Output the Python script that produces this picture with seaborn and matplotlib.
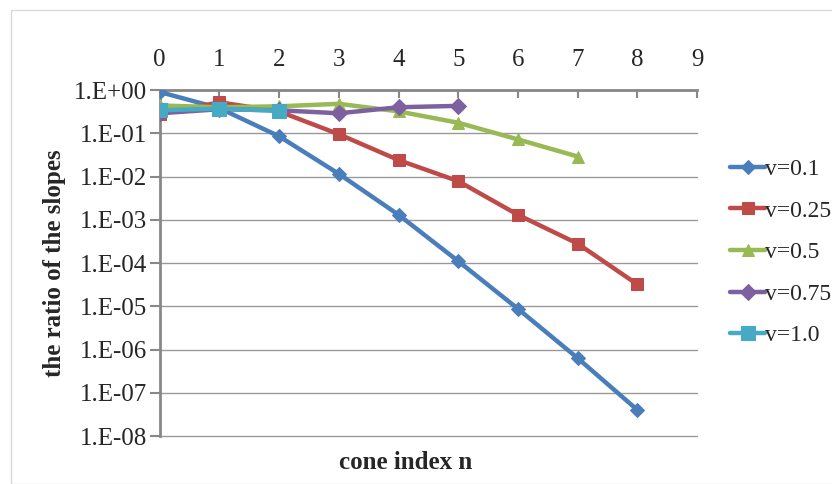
import numpy as np
import pandas as pd
import matplotlib
matplotlib.use("Agg")
import matplotlib.pyplot as plt
import seaborn as sns
from matplotlib.ticker import FixedLocator, FuncFormatter, NullLocator

# ---- data ----
labels = ["v=0.1", "v=0.25", "v=0.5", "v=0.75", "v=1.0"]
v01 = [0.90, 0.38, 0.085, 0.0115, 0.0013, 1.1e-4, 8.7e-6, 6.3e-7, 4.0e-8]
v025 = [0.28, 0.52, 0.32, 0.095, 0.024, 0.0078, 0.0013, 2.8e-4, 3.2e-5]
v05 = [0.44, 0.40, 0.42, 0.48, 0.32, 0.175, 0.072, 0.029]
v075 = [0.29, 0.36, 0.34, 0.29, 0.40, 0.43]
v10 = [0.34, 0.37, 0.33]
series = [v01, v025, v05, v075, v10]
xticks = list(range(10))
ytick_exps = list(range(0, -9, -1))

colors = ["#4A7EBB", "#BE4B48", "#98B954", "#7D60A0", "#46AAC5"]
markers = ["D", "s", "^", "D", "s"]
msizes = [7, 9, 9, 8, 10]

rows = []
for lab, vals in zip(labels, series):
    for i, v in enumerate(vals):
        rows.append({"n": i, "ratio": v, "series": lab})
df = pd.DataFrame(rows)

sns.set_style("white")
plt.rcParams["font.family"] = ["Liberation Serif", "DejaVu Serif"]

fig = plt.figure(figsize=(8.32, 4.84), dpi=100)
ax = fig.add_axes([0.192, 0.099, 0.646, 0.715])

for lab, c, m, ms in zip(labels, colors, markers, msizes):
    sub = df[df["series"] == lab]
    sns.lineplot(data=sub, x="n", y="ratio", ax=ax, color=c, marker=m,
                 markersize=ms, linewidth=3.2, markeredgecolor=c,
                 label=lab, zorder=3)

ax.set_yscale("log")
ax.set_ylim(1e-8, 1.0)
ax.set_xlim(0, 9)
ax.yaxis.set_major_locator(FixedLocator([10.0 ** e for e in ytick_exps]))
ax.yaxis.set_minor_locator(NullLocator())
ax.yaxis.set_major_formatter(FuncFormatter(
    lambda v, p: "1.E+00" if round(np.log10(v)) == 0 else "1.E-%02d" % (-round(np.log10(v)))))
ax.set_xticks(xticks)
ax.xaxis.tick_top()
ax.tick_params(axis="x", top=True, bottom=False, direction="in", length=6,
               width=1.5, color="#888888", labelsize=18, pad=14)
ax.tick_params(axis="y", left=True, direction="out", length=7, width=1.5,
               color="#888888", labelsize=18, pad=2)
ax.grid(axis="y", color="#999999", linewidth=1.0)
ax.grid(axis="x", visible=False)
for gl in ax.get_ygridlines():
    gl.set_clip_on(False)
for s in ["right", "bottom"]:
    ax.spines[s].set_visible(False)
for s in ["left", "top"]:
    ax.spines[s].set_color("#888888")
    ax.spines[s].set_linewidth(2)

ax.set_xlabel("")
ax.set_ylabel("the ratio of the slopes", fontsize=18, fontweight="bold", labelpad=6)
fig.text(0.487, 0.045, "cone index n", ha="center", va="center", fontsize=18,
         fontweight="bold")

leg = ax.legend(loc="upper left", bbox_to_anchor=(0.866, 0.692),
                bbox_transform=fig.transFigure, frameon=False, fontsize=17,
                handlelength=1.5, handletextpad=0.0, labelspacing=0.85,
                borderaxespad=0)

fig.patches.append(plt.Rectangle((0.013, 0.0), 0.99, 0.98, transform=fig.transFigure,
                                 fill=False, edgecolor="#d9d9d9", linewidth=1))

fig.savefig("out.png", dpi=100)
